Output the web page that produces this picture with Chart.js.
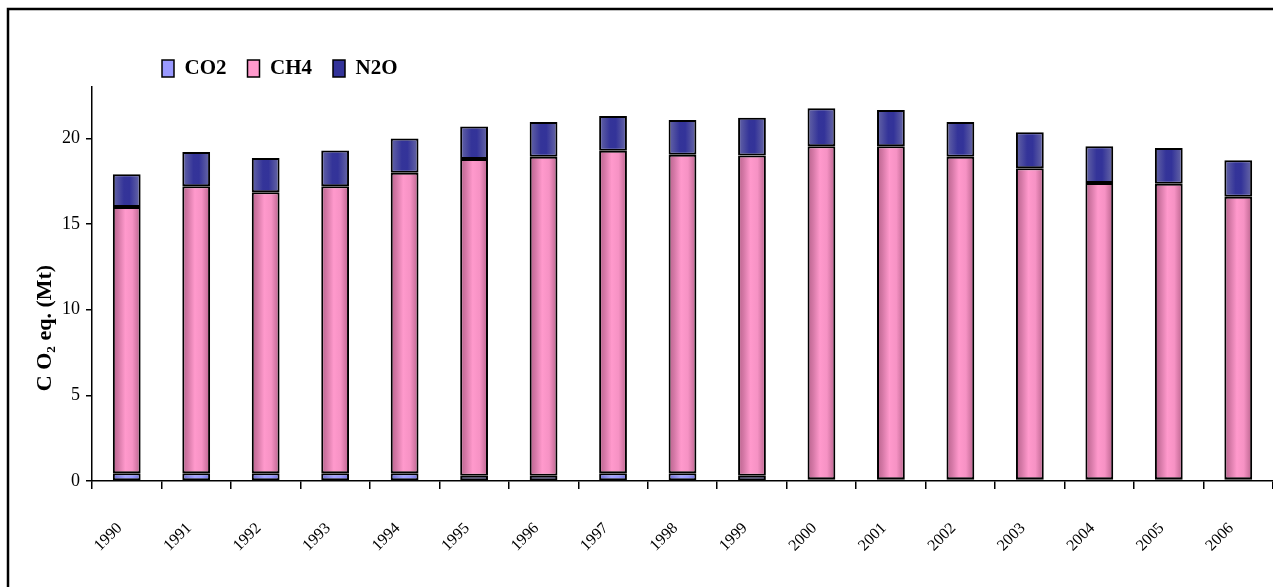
<!DOCTYPE html>
<html>
<head>
<meta charset="utf-8">
<script src="https://cdn.jsdelivr.net/npm/chart.js@4"></script>
<style>
  html, body { margin: 0; padding: 0; background: #fff; }
  #wrap { width: 1273px; height: 587px; }
</style>
</head>
<body>
<div id="wrap"><canvas id="barChart"></canvas></div>
<script>
// data (Mt CO2 eq.)
const years = ["1990", "1991", "1992", "1993", "1994", "1995", "1996", "1997", "1998",
  "1999", "2000", "2001", "2002", "2003", "2004", "2005", "2006"];
const co2 = [0.45, 0.45, 0.45, 0.45, 0.45, 0.3, 0.3, 0.45, 0.45, 0.3, 0.1, 0.1, 0.1, 0.1, 0.1, 0.1, 0.1];
const ch4 = [15.55, 16.75, 16.4, 16.75, 17.55, 18.5, 18.63, 18.83, 18.6, 18.7, 19.44, 19.44, 18.83, 18.15, 17.29, 17.25, 16.49];
const n2o = [1.9, 2.0, 2.0, 2.1, 2.0, 1.9, 2.03, 2.02, 2.03, 2.2, 2.22, 2.12, 2.03, 2.11, 2.15, 2.09, 2.13];
const yTicks = [0, 5, 10, 15, 20];

const flatColors = ["#9999FF", "#FF99CC", "#333399"];
const barPct = 0.4;

// horizontal shading like the old office bars
function shaded(flat, stops) {
  return (ctx) => {
    if (ctx.type !== "data") return flat;
    const chart = ctx.chart;
    const xs = chart.scales.x;
    if (!xs) return flat;
    const cx = xs.getPixelForValue(ctx.dataIndex);
    const w = (xs.width / years.length) * barPct;
    if (!Number.isFinite(cx) || !Number.isFinite(w) || w <= 0) return flat;
    const g = chart.ctx.createLinearGradient(cx - w / 2, 0, cx + w / 2, 0);
    stops.forEach(([p, c]) => g.addColorStop(p, c));
    return g;
  };
}

// frame round the picture
const framePlugin = {
  id: "frame",
  beforeDraw(chart) {
    const c = chart.ctx;
    c.save();
    c.fillStyle = "#fff";
    c.fillRect(0, 0, chart.width, chart.height);
    c.strokeStyle = "#000";
    c.lineWidth = 2.5;
    c.strokeRect(8, 9, chart.width + 20, chart.height + 20);
    c.restore();
  },
};

// move legend to the left, as in the original
const legendShift = {
  id: "legendShift",
  afterLayout(chart) {
    const lg = chart.legend;
    if (!lg) return;
    const w = lg.right - lg.left;
    lg.left = 141;
    lg.right = 141 + w;
    lg.top += 2;
    lg.bottom += 2;
  },
};

const font = "'Liberation Serif', 'Times New Roman', serif";
const pad = "\u00a0".repeat(16);

new Chart(document.getElementById("barChart").getContext("2d"), {
  type: "bar",
  data: {
    labels: years,
    datasets: [
      {
        label: "CO2",
        data: co2,
        backgroundColor: shaded(flatColors[0], [[0, "#6B6BD0"], [0.45, "#A4A4FF"], [0.7, "#9999FF"], [1, "#7272D6"]]),
      },
      {
        label: "CH4",
        data: ch4,
        backgroundColor: shaded(flatColors[1], [[0, "#B8628C"], [0.2, "#D478A6"], [0.45, "#FF99CC"], [0.7, "#F692C4"], [1, "#B8628C"]]),
      },
      {
        label: "N2O",
        data: n2o,
        backgroundColor: shaded(flatColors[2], [[0, "#6666A6"], [0.4, "#343499"], [0.6, "#333399"], [1, "#6A6AA6"]]),
      },
    ].map((d) => ({
      ...d,
      borderColor: "#000",
      borderWidth: 2,
      borderSkipped: false,
      categoryPercentage: 1,
      barPercentage: barPct,
    })),
  },
  options: {
    responsive: true,
    maintainAspectRatio: false,
    animation: false,
    devicePixelRatio: 1,
    layout: { padding: { top: 35, left: 0, right: 0, bottom: 0 } },
    plugins: {
      tooltip: { enabled: false },
      legend: {
        position: "top",
        align: "start",
        labels: {
          color: "#000",
          font: { family: font, size: 21, weight: "bold" },
          boxWidth: 12,
          boxHeight: 17,
          padding: 21,
          generateLabels(chart) {
            const items = Chart.defaults.plugins.legend.labels.generateLabels(chart);
            return items.map((it, i) => ({ ...it, fillStyle: flatColors[i], strokeStyle: "#000", lineWidth: 1.5 }));
          },
        },
      },
    },
    scales: {
      x: {
        stacked: true,
        grid: {
          offset: true,
          drawOnChartArea: false,
          drawTicks: true,
          tickLength: 8,
          color: "#000",
          lineWidth: 1.5,
        },
        border: { color: "#000", width: 1.5 },
        ticks: {
          color: "#000",
          font: { family: font, size: 16 },
          minRotation: 45,
          maxRotation: 45,
          padding: 30,
          labelOffset: -7,
        },
        afterFit(scale) {
          scale.height = 106;
          scale.paddingLeft = 0;
          scale.paddingRight = 0;
        },
      },
      y: {
        stacked: true,
        min: 0,
        max: 23,
        afterBuildTicks(scale) {
          scale.ticks = yTicks.map((v) => ({ value: v }));
        },
        grid: {
          drawOnChartArea: false,
          drawTicks: true,
          tickLength: 6,
          color: "#000",
          lineWidth: 1.5,
        },
        border: { color: "#000", width: 1.5 },
        ticks: {
          color: "#000",
          font: { family: font, size: 18 },
          padding: 6,
        },
        title: {
          display: true,
          text: "C O\u2082 eq. (Mt)" + pad,
          color: "#000",
          font: { family: font, size: 22, weight: "bold" },
          padding: { top: 32, bottom: 8 },
        },
        afterFit(scale) {
          scale.width = 92;
        },
      },
    },
  },
  plugins: [framePlugin, legendShift],
});
</script>
</body>
</html>
